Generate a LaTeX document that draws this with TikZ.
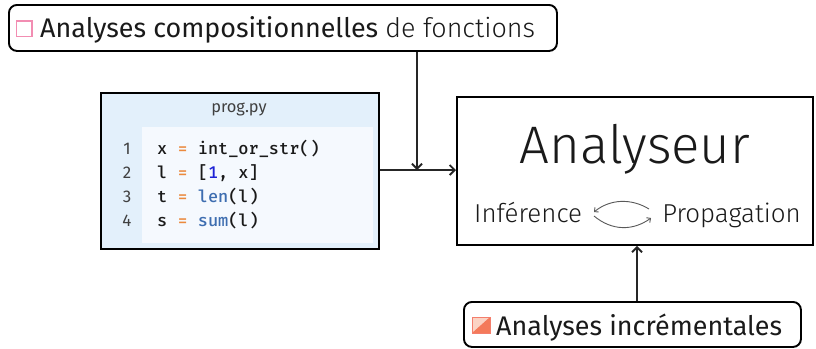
\documentclass[tikz,border=0pt]{standalone}
\usepackage{fontspec}
\setmainfont{Fira Sans}
\newfontfamily\firalight{Fira Sans Light}
\newfontfamily\codefont{Fira Mono Medium}
\usetikzlibrary{arrows.meta}
\definecolor{codebg}{HTML}{E3F0FB}
\definecolor{codeinner}{HTML}{F5F9FE}
\definecolor{opcol}{HTML}{EB8A3E}
\definecolor{numcol}{HTML}{1E22D6}
\definecolor{fncol}{HTML}{3D6DB0}
\definecolor{txtcol}{HTML}{1A1A1A}
\definecolor{pinkbox}{HTML}{F28DB2}
\definecolor{orangedark}{HTML}{F47A5A}
\definecolor{orangelight}{HTML}{FBD3C4}
\newcommand{\op}[1]{\textcolor{opcol}{#1}}
\newcommand{\fn}[1]{\textcolor{fncol}{#1}}
\begin{document}
\begin{tikzpicture}[x=1bp,y=-1bp,
  rbox/.style={draw=black, line width=1.9bp, rounded corners=8bp, fill=white, inner sep=0pt},
  sbox/.style={draw=black, line width=1.9bp, fill=white, inner sep=0pt},
  link/.style={line width=1.9bp, draw=black!85},
  tip/.style={-{Straight Barb[length=5bp,width=10bp]}},
  codeline/.style={anchor=base west, inner sep=0pt, font=\codefont\fontsize{17}{20}\selectfont, text=txtcol},
  linenum/.style={anchor=base, inner sep=0pt, font=\fontsize{17}{20}\selectfont, text=black!75},
  swap/.style={line width=0.9bp, draw=black!65, -{Straight Barb[length=3bp,width=6bp]}}
]
\useasboundingbox (0,0) rectangle (816,348);

% boxes
\node[rbox, anchor=north west, minimum width=548bp, minimum height=46bp] (comp) at (8,4) {};
\node[sbox, anchor=north west, minimum width=356bp, minimum height=148bp] (ana) at (456,96) {};
\node[rbox, anchor=north west, minimum width=337bp, minimum height=45bp] (inc) at (463,301) {};

% code listing
\node[draw=black, line width=1.5bp, fill=codebg, anchor=north west, inner sep=0pt,
      minimum width=278bp, minimum height=156bp] (prog) at (100,92) {};
\fill[codeinner] (142,127) rectangle (373,243);
\node[anchor=base, inner sep=0pt, font=\fontsize{16.5}{20}\selectfont, text=black!75] (title) at (239,112) {prog.py};
\node[linenum] (n1) at (127,154) {1};
\node[linenum] (n2) at (127,178) {2};
\node[linenum] (n3) at (127,202) {3};
\node[linenum] (n4) at (127,226) {4};
\node[codeline] (c1) at (157,154) {x \op{=} int\_or\_str()};
\node[codeline] (c2) at (157,178) {l \op{=} [\textcolor{numcol}{1}, x]};
\node[codeline] (c3) at (157,202) {t \op{=} \fn{len}(l)};
\node[codeline] (c4) at (157,226) {s \op{=} \fn{sum}(l)};

% top label
\draw[pinkbox, line width=1.1bp] (16.5,21) rectangle (32,36.5);
\node[anchor=base west, inner sep=0pt, font=\fontsize{27}{31}\selectfont, text=txtcol] (compt) at (40,37)
  {Analyses compositionnelles {\firalight de fonctions}};

% analyser content
\node[anchor=base, inner sep=0pt, font=\firalight\fontsize{53}{60}\selectfont, text=txtcol] (anat) at (635,163) {Analyseur};
\node[anchor=base west, inner sep=0pt, font=\firalight\fontsize{26}{30}\selectfont, text=txtcol] (inf) at (474,222) {Inférence};
\node[anchor=base east, inner sep=0pt, font=\firalight\fontsize{26}{30}\selectfont, text=txtcol] (prop) at (801,222) {Propagation};
\coordinate (sa) at (649,209);
\coordinate (sb) at (594,212);
\coordinate (sc) at (594,216);
\coordinate (sd) at (651,218);
\draw[swap] (sa) .. controls (631,198) and (610,199) .. (sb);
\draw[swap] (sc) .. controls (612,231) and (633,231) .. (sd);

% bottom label
\fill[orangelight] (472,317) -- (490,317) -- (472,333) -- cycle;
\fill[orangedark] (490,317) -- (490,333) -- (472,333) -- cycle;
\draw[orangedark!80!pinkbox, line width=0.8bp] (472,317) rectangle (490,333);
\node[anchor=base west, inner sep=0pt, font=\fontsize{27}{31}\selectfont, text=txtcol] (inct) at (496,335) {Analyses incrémentales};

% connectors
\coordinate (join) at (417,170);
\draw[link, tip] (prog.east |- join) -- (ana.west |- join);
\draw[link, tip] (comp.south -| join) -- (join);
\draw[link, tip] (inc.north -| 637,0) -- (ana.south -| 637,0);
\end{tikzpicture}
\end{document}
